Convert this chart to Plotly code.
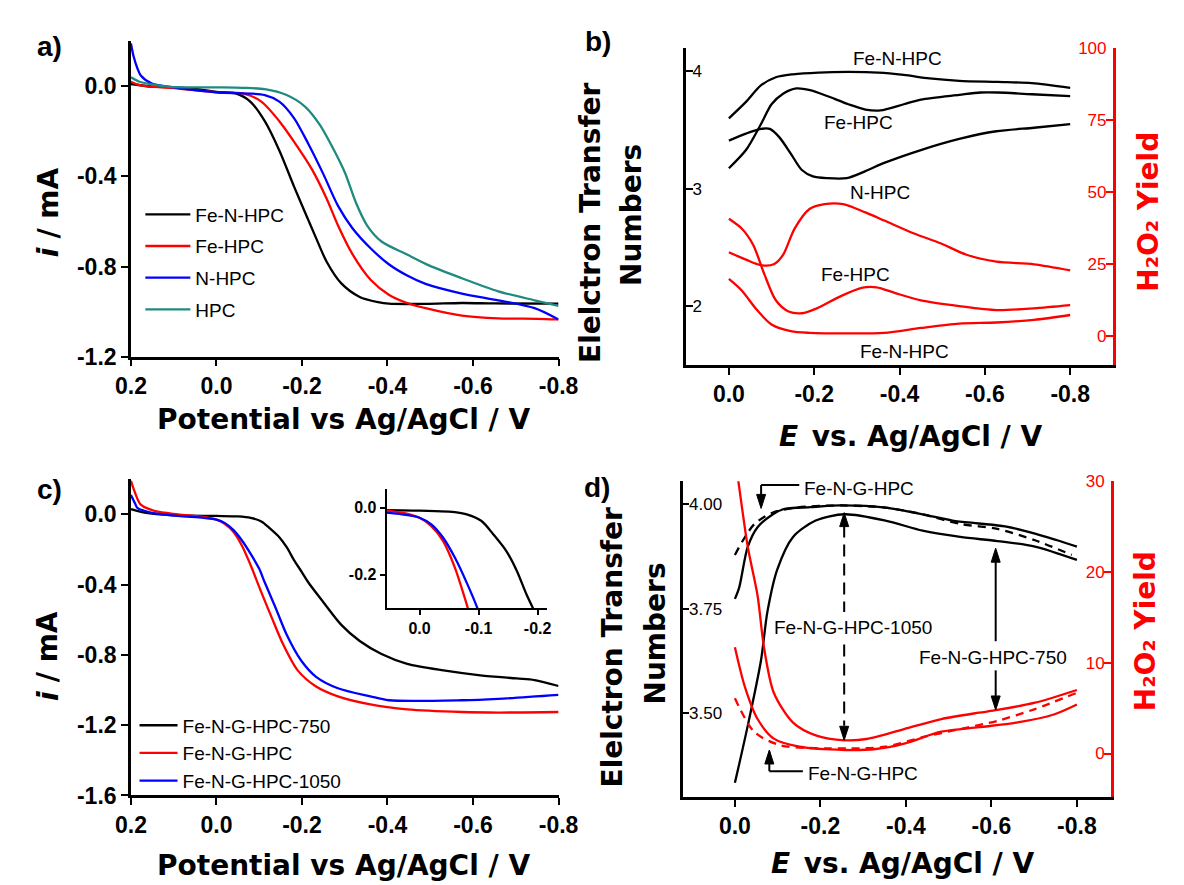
import plotly.graph_objects as go

W, H = 1184, 885

# ---------------- Panel a data ----------------
a_E_fenhpc = [0.2, 0.15, 0.1, 0.05, 0.0, -0.045, -0.079, -0.113, -0.147, -0.181, -0.207, -0.233, -0.258, -0.292, -0.335, -0.378, -0.403, -0.489, -0.574, -0.65, -0.8]
a_i_fenhpc = [0.01, -0.002, -0.005, -0.012, -0.025, -0.032, -0.068, -0.155, -0.285, -0.443, -0.559, -0.674, -0.78, -0.875, -0.935, -0.958, -0.965, -0.966, -0.962, -0.964, -0.965]
a_E_fehpc = [0.2, 0.18, 0.15, 0.1, 0.0, -0.062, -0.105, -0.147, -0.19, -0.224, -0.258, -0.284, -0.318, -0.361, -0.403, -0.446, -0.489, -0.574, -0.659, -0.75, -0.8]
a_i_fehpc = [0.02, 0.005, -0.002, -0.008, -0.027, -0.032, -0.068, -0.155, -0.27, -0.371, -0.50, -0.617, -0.745, -0.86, -0.925, -0.962, -0.985, -1.018, -1.03, -1.032, -1.035]
a_E_nhpc = [0.2, 0.194, 0.185, 0.177, 0.151, 0.109, 0.0, -0.113, -0.147, -0.181, -0.215, -0.25, -0.284, -0.318, -0.361, -0.403, -0.446, -0.489, -0.574, -0.659, -0.744, -0.8]
a_i_nhpc = [0.19, 0.134, 0.08, 0.048, 0.012, -0.003, -0.027, -0.039, -0.068, -0.14, -0.256, -0.39, -0.53, -0.63, -0.72, -0.79, -0.84, -0.877, -0.92, -0.95, -0.985, -1.035]
a_E_hpc = [0.2, 0.18, 0.15, 0.109, 0.0, -0.062, -0.113, -0.164, -0.207, -0.241, -0.275, -0.301, -0.326, -0.352, -0.386, -0.446, -0.497, -0.574, -0.659, -0.744, -0.8]
a_i_hpc = [0.04, 0.02, 0.008, -0.003, -0.005, -0.007, -0.013, -0.039, -0.09, -0.169, -0.284, -0.386, -0.516, -0.617, -0.689, -0.747, -0.795, -0.852, -0.91, -0.95, -0.975]

# ---------------- Panel b data ----------------
b_E_n_fenhpc = [0, -0.04, -0.075, -0.11, -0.15, -0.21, -0.28, -0.35, -0.41, -0.47, -0.54, -0.63, -0.71, -0.8]
b_n_fenhpc = [3.60, 3.74, 3.88, 3.95, 3.975, 3.99, 3.995, 3.99, 3.97, 3.94, 3.92, 3.91, 3.90, 3.86]
b_E_n_fehpc = [0, -0.04, -0.075, -0.10, -0.127, -0.158, -0.19, -0.23, -0.28, -0.32, -0.355, -0.41, -0.45, -0.54, -0.59, -0.63, -0.71, -0.8]
b_n_fehpc = [3.175, 3.33, 3.55, 3.72, 3.81, 3.855, 3.84, 3.79, 3.72, 3.675, 3.667, 3.72, 3.76, 3.80, 3.82, 3.82, 3.805, 3.79]
b_E_n_nhpc = [0, -0.04, -0.075, -0.096, -0.118, -0.145, -0.171, -0.197, -0.23, -0.276, -0.32, -0.364, -0.45, -0.54, -0.627, -0.715, -0.8]
b_n_nhpc = [3.41, 3.47, 3.51, 3.51, 3.44, 3.30, 3.16, 3.105, 3.09, 3.09, 3.15, 3.22, 3.33, 3.425, 3.49, 3.52, 3.55]
b_E_h_nhpc = [0, -0.04, -0.075, -0.105, -0.127, -0.154, -0.189, -0.224, -0.268, -0.32, -0.364, -0.434, -0.496, -0.557, -0.627, -0.715, -0.8]
b_h_nhpc = [29.1, 26.5, 24.6, 24.9, 28.2, 37.3, 44.1, 45.8, 45.8, 42.9, 40.1, 35.6, 32.2, 28.2, 25.8, 24.9, 22.8]
b_E_h_fehpc = [0, -0.03, -0.057, -0.083, -0.11, -0.14, -0.171, -0.206, -0.259, -0.311, -0.346, -0.39, -0.45, -0.54, -0.627, -0.715, -0.8]
b_h_fehpc = [40.7, 37.3, 31.6, 21.5, 12.4, 8.5, 7.9, 9.6, 13.6, 16.7, 16.9, 14.9, 12.4, 10.4, 9.0, 9.6, 10.7]
b_E_h_fenhpc = [0, -0.03, -0.066, -0.10, -0.145, -0.189, -0.276, -0.364, -0.45, -0.54, -0.627, -0.715, -0.8]
b_h_fenhpc = [19.8, 15.8, 9.0, 4.0, 1.7, 1.1, 0.9, 1.1, 2.8, 4.3, 4.7, 5.6, 7.3]

# ---------------- Panel c data ----------------
c_E_750 = [0.2, 0.168, 0.1, 0.0, -0.05, -0.08, -0.105, -0.125, -0.147, -0.165, -0.181, -0.2, -0.215, -0.25, -0.292, -0.335, -0.386, -0.446, -0.531, -0.617, -0.702, -0.744, -0.8]
c_i_750 = [0.03, 0.01, -0.005, -0.009, -0.012, -0.02, -0.04, -0.08, -0.13, -0.19, -0.259, -0.33, -0.388, -0.5, -0.629, -0.721, -0.795, -0.851, -0.888, -0.916, -0.934, -0.943, -0.977]
c_E_900 = [0.2, 0.19, 0.177, 0.143, 0.09, 0.03, 0.0, -0.02, -0.04, -0.06, -0.08, -0.105, -0.13, -0.156, -0.19, -0.233, -0.284, -0.36, -0.446, -0.574, -0.659, -0.8]
c_i_900 = [0.19, 0.12, 0.055, 0.018, 0.0, -0.015, -0.03, -0.055, -0.1, -0.18, -0.29, -0.444, -0.592, -0.74, -0.888, -0.98, -1.036, -1.082, -1.11, -1.125, -1.128, -1.125]
c_E_1050 = [0.2, 0.19, 0.185, 0.151, 0.09, 0.03, 0.0, -0.02, -0.04, -0.06, -0.08, -0.1, -0.113, -0.139, -0.164, -0.198, -0.233, -0.284, -0.36, -0.403, -0.574, -0.659, -0.8]
c_i_1050 = [0.11, 0.06, 0.037, 0.009, -0.009, -0.02, -0.03, -0.05, -0.09, -0.15, -0.225, -0.31, -0.388, -0.536, -0.684, -0.832, -0.925, -0.99, -1.036, -1.058, -1.058, -1.05, -1.027]

# ---------------- Panel d data ----------------
d_E_n_top = [0, -0.01, -0.03, -0.053, -0.089, -0.113, -0.177, -0.247, -0.352, -0.439, -0.509, -0.57, -0.632, -0.702, -0.754, -0.8]
d_n_top = [3.773, 3.80, 3.897, 3.944, 3.975, 3.987, 3.992, 3.996, 3.991, 3.975, 3.96, 3.953, 3.946, 3.929, 3.913, 3.898]
d_E_n_low = [0, -0.03, -0.061, -0.076, -0.099, -0.136, -0.189, -0.257, -0.352, -0.439, -0.527, -0.614, -0.702, -0.8]
d_n_low = [3.334, 3.47, 3.626, 3.742, 3.843, 3.921, 3.96, 3.975, 3.960, 3.936, 3.921, 3.911, 3.898, 3.866]
d_E_n_dash = [0, -0.019, -0.046, -0.089, -0.142, -0.247, -0.352, -0.439, -0.527, -0.614, -0.702, -0.788]
d_n_dash = [3.878, 3.913, 3.952, 3.979, 3.991, 3.996, 3.991, 3.975, 3.952, 3.94, 3.913, 3.878]
d_E_h_top = [0, -0.008, -0.03, -0.053, -0.068, -0.091, -0.136, -0.189, -0.257, -0.308, -0.396, -0.483, -0.571, -0.614, -0.702, -0.8]
d_h_top = [32.5, 30.0, 22.8, 17.4, 11.7, 6.7, 3.4, 2.0, 1.46, 1.6, 2.7, 3.8, 4.5, 4.8, 5.6, 7.0]
d_E_h_low = [0, -0.023, -0.053, -0.091, -0.151, -0.257, -0.33, -0.396, -0.483, -0.571, -0.658, -0.746, -0.8]
d_h_low = [11.7, 7.4, 3.8, 1.64, 0.75, 0.39, 0.5, 1.1, 2.4, 2.9, 3.4, 4.3, 5.4]
d_E_h_dash = [0, -0.045, -0.106, -0.264, -0.352, -0.439, -0.527, -0.614, -0.702, -0.8]
d_h_dash = [6.1, 2.4, 0.92, 0.57, 0.75, 1.8, 2.7, 3.6, 4.9, 6.7]

# ticks
ab_xticks = [0.2, 0.0, -0.2, -0.4, -0.6, -0.8]
ab_xtext = ["0.2", "0.0", "-0.2", "-0.4", "-0.6", "-0.8"]
bd_xticks = [0.0, -0.2, -0.4, -0.6, -0.8]
bd_xtext = ["0.0", "-0.2", "-0.4", "-0.6", "-0.8"]
a_yticks = [0.0, -0.4, -0.8, -1.2]
a_ytext = ["0.0", "-0.4", "-0.8", "-1.2"]
c_yticks = [0.0, -0.4, -0.8, -1.2, -1.6]
c_ytext = ["0.0", "-0.4", "-0.8", "-1.2", "-1.6"]
b_nticks = [2, 3, 4]
b_hticks = [0, 25, 50, 75, 100]
d_nticks = [3.5, 3.75, 4.0]
d_ntext = ["3.50", "3.75", "4.00"]
d_hticks = [0, 10, 20, 30]
in_xticks = [0.0, -0.1, -0.2]
in_xtext = ["0.0", "-0.1", "-0.2"]
in_yticks = [0.0, -0.2]
in_ytext = ["0.0", "-0.2"]

BLACK, RED, BLUE, TEAL = "#000000", "#FF0000", "#0000FF", "#1F8A80"
LW = 2.3

fig = go.Figure()

def add(x, y, color, xa, ya, name=None, legend=None, dash="solid", show=False):
    fig.add_trace(go.Scatter(
        x=x, y=y, mode="lines", name=name, xaxis=xa, yaxis=ya,
        line=dict(color=color, width=LW, dash=dash, shape="spline", smoothing=0.8),
        showlegend=show, legend=legend, legendgroup=name, hoverinfo="skip"))

# panel a
add(a_E_fenhpc, a_i_fenhpc, BLACK, "x", "y", "Fe-N-HPC", "legend", show=True)
add(a_E_fehpc, a_i_fehpc, RED, "x", "y", "Fe-HPC", "legend", show=True)
add(a_E_nhpc, a_i_nhpc, BLUE, "x", "y", "N-HPC", "legend", show=True)
add(a_E_hpc, a_i_hpc, TEAL, "x", "y", "HPC", "legend", show=True)

# panel b
add(b_E_n_fenhpc, b_n_fenhpc, BLACK, "x2", "y2")
add(b_E_n_fehpc, b_n_fehpc, BLACK, "x2", "y2")
add(b_E_n_nhpc, b_n_nhpc, BLACK, "x2", "y2")
add(b_E_h_nhpc, b_h_nhpc, RED, "x2", "y3")
add(b_E_h_fehpc, b_h_fehpc, RED, "x2", "y3")
add(b_E_h_fenhpc, b_h_fenhpc, RED, "x2", "y3")

# panel c
add(c_E_750, c_i_750, BLACK, "x3", "y4", "Fe-N-G-HPC-750", "legend2", show=True)
add(c_E_900, c_i_900, RED, "x3", "y4", "Fe-N-G-HPC", "legend2", show=True)
add(c_E_1050, c_i_1050, BLUE, "x3", "y4", "Fe-N-G-HPC-1050", "legend2", show=True)
# inset
add(c_E_750, c_i_750, BLACK, "x5", "y7")
add(c_E_900, c_i_900, RED, "x5", "y7")
add(c_E_1050, c_i_1050, BLUE, "x5", "y7")

# panel d
add(d_E_n_top, d_n_top, BLACK, "x4", "y5")
add(d_E_n_low, d_n_low, BLACK, "x4", "y5")
add(d_E_n_dash, d_n_dash, BLACK, "x4", "y5", dash="8px,6px")
add(d_E_h_top, d_h_top, RED, "x4", "y6")
add(d_E_h_low, d_h_low, RED, "x4", "y6")
add(d_E_h_dash, d_h_dash, RED, "x4", "y6", dash="8px,6px")

TICKB = dict(family="Arial", size=23, color="black", weight="bold")
base = dict(showline=True, linecolor="black", linewidth=2.5, showgrid=False, zeroline=False,
            ticks="outside", ticklen=7, tickwidth=2, tickcolor="black", mirror=False)

def dx(a, b):
    return [a / W, b / W]

def dy(top, bot):
    return [1 - bot / H, 1 - top / H]

fig.update_layout(
    width=W, height=H, margin=dict(l=0, r=0, t=0, b=0),
    paper_bgcolor="white", plot_bgcolor="rgba(0,0,0,0)",
    xaxis=dict(base, domain=dx(110.3, 551.3), range=[0.2, -0.8], anchor="y",
               tickvals=ab_xticks, ticktext=ab_xtext, tickfont=TICKB),
    yaxis=dict(base, domain=dy(24.8, 348.3), range=[-1.2, 0.2], anchor="x",
               tickvals=a_yticks, ticktext=a_ytext, tickfont=TICKB),
    xaxis2=dict(base, domain=dx(683, 1123), range=[0.1, -0.9], anchor="y2",
                tickvals=bd_xticks, ticktext=bd_xtext, tickfont=TICKB),
    yaxis2=dict(base, domain=dy(31.7, 356.7), range=[1.5, 4.2], anchor="x2",
                tickvals=b_nticks, ticks="inside", ticklabelposition="inside",
                ticklabeloverflow="allow",
                tickfont=dict(family="Arial", size=17, color="black")),
    yaxis3=dict(base, domain=dy(31.7, 356.7), range=[-10, 100], anchor="x2", overlaying="y2",
                side="right", linecolor=RED, tickcolor=RED, tickvals=b_hticks,
                ticks="inside", ticklabelposition="inside", ticklabeloverflow="allow",
                tickfont=dict(family="Arial", size=17, color=RED)),
    xaxis3=dict(base, domain=dx(110.3, 551.3), range=[0.2, -0.8], anchor="y4",
                tickvals=ab_xticks, ticktext=ab_xtext, tickfont=TICKB),
    yaxis4=dict(base, domain=dy(474, 798.3), range=[-1.6, 0.2], anchor="x3",
                tickvals=c_yticks, ticktext=c_ytext, tickfont=TICKB),
    xaxis4=dict(base, domain=dx(679.4, 1121.2), range=[0.122, -0.88], anchor="y5",
                tickvals=bd_xticks, ticktext=bd_xtext, tickfont=TICKB),
    yaxis5=dict(base, domain=dy(476, 800), range=[3.30, 4.054], anchor="x4",
                tickvals=d_nticks, ticktext=d_ntext, ticks="inside", ticklabelposition="inside",
                ticklabeloverflow="allow",
                tickfont=dict(family="Arial", size=17, color="black")),
    yaxis6=dict(base, domain=dy(476, 800), range=[-4.8, 30], anchor="x4", overlaying="y5",
                side="right", linecolor=RED, tickcolor=RED, tickvals=d_hticks,
                ticks="inside", ticklabelposition="inside", ticklabeloverflow="allow",
                tickfont=dict(family="Arial", size=17, color=RED)),
    xaxis5=dict(base, domain=dx(374, 539.5), range=[0.0557, -0.216], anchor="y7",
                linewidth=2, ticklen=5, tickvals=in_xticks, ticktext=in_xtext,
                tickfont=dict(family="Arial", size=16, color="black", weight="bold")),
    yaxis7=dict(base, domain=dy(484, 606), range=[-0.3, 0.056], anchor="x5",
                linewidth=2, ticklen=5, tickvals=in_yticks, ticktext=in_ytext,
                tickfont=dict(family="Arial", size=16, color="black", weight="bold")),
    legend=dict(x=120 / W, y=1 - 183 / H, xanchor="left", yanchor="top",
                font=dict(family="Arial", size=19, color="black"), bgcolor="rgba(0,0,0,0)",
                tracegroupgap=4, itemwidth=45),
    legend2=dict(x=114 / W, y=1 - 707 / H, xanchor="left", yanchor="top",
                 font=dict(family="Arial", size=19, color="black"), bgcolor="rgba(0,0,0,0)",
                 tracegroupgap=0, itemwidth=38),
)

TITLE = dict(family="DejaVu Sans", size=28, color="black", weight="bold")
TITLE_I = dict(TITLE, style="italic")
ann = []

def pa(text, x, y, font, angle=0, xanchor="center", yanchor="middle"):
    ann.append(dict(text=text, x=x / W, y=1 - y / H, xref="paper", yref="paper",
                    showarrow=False, font=font, textangle=angle, xanchor=xanchor, yanchor=yanchor))

pa("Potential vs Ag/AgCl / V", 330, 413, TITLE)
pa("Potential vs Ag/AgCl / V", 330, 870, TITLE)
# "E vs. Ag/AgCl / V" with italic E
pa("E", 800, 430, TITLE_I, xanchor="right")
pa(" vs. Ag/AgCl / V", 800, 430, TITLE, xanchor="left")
pa("E", 792, 868, TITLE_I, xanchor="right")
pa(" vs. Ag/AgCl / V", 792, 868, TITLE, xanchor="left")
# "i / mA" with italic i (rotated, read bottom to top)
pa("i", 25, 241, TITLE_I, -90)
pa(" / mA", 25, 196, TITLE, -90)
pa("i", 25, 696, TITLE_I, -90)
pa(" / mA", 25, 651, TITLE, -90)
YT = dict(family="DejaVu Sans", size=28, color="black", weight="bold")
pa("Elelctron Transfer", 585, 211, YT, -90)
pa("Numbers", 627, 203, YT, -90)
pa("Elelctron Transfer", 607, 646, YT, -90)
pa("Numbers", 651, 632, YT, -90)
RT = dict(family="DejaVu Sans", size=28, color=RED, weight="bold")
pa("H₂O₂ Yield", 1159, 200, RT, -90)
pa("H₂O₂ Yield", 1157, 630, RT, -90)
PL = dict(family="Arial", size=28, color="black", weight="bold")
pa("a)", 26, 30, PL)
pa("b)", 592, 25, PL)
pa("c)", 26, 485, PL)
pa("d)", 591, 482, PL)

LAB = dict(family="Arial", size=19, color="black")

def da(text, x, y, xr, yr):
    ann.append(dict(text=text, x=x, y=y, xref=xr, yref=yr, showarrow=False, font=LAB,
                    xanchor="center", yanchor="middle"))

# panel b labels
da("Fe-N-HPC", -0.395, 4.111, "x2", "y2")
da("Fe-HPC", -0.303, 3.564, "x2", "y2")
da("N-HPC", -0.355, 2.967, "x2", "y2")
da("Fe-HPC", -0.296, 21.5, "x2", "y3")
da("Fe-N-HPC", -0.412, -5.4, "x2", "y3")

# panel d labels
da("Fe-N-G-HPC", -0.2907, 4.037, "x4", "y5")
da("Fe-N-G-HPC-1050", -0.2772, 3.705, "x4", "y5")
da("Fe-N-G-HPC-750", -0.6043, 3.633, "x4", "y5")
da("Fe-N-G-HPC", -0.3001, -2.22, "x4", "y6")

shapes = []

def seg(x0, y0, x1, y1, yr, dash="solid"):
    shapes.append(dict(type="line", xref="x4", yref=yr, x0=x0, x1=x1, y0=y0, y1=y1,
                       line=dict(color="black", width=2, dash=dash)))

def head(x, y, yr, up):
    path = "M0,0 L-4.5,-14 L4.5,-14 Z" if up else "M0,0 L-4.5,14 L4.5,14 Z"
    shapes.append(dict(type="path", xref="x4", yref=yr, xsizemode="pixel", ysizemode="pixel",
                       xanchor=x, yanchor=y, path=path, fillcolor="black",
                       line=dict(color="black", width=1)))

# top bracket (Fe-N-G-HPC)
seg(-0.0613, 4.045, -0.1505, 4.045, "y5")
seg(-0.0613, 4.045, -0.0613, 3.995, "y5")
head(-0.0613, 3.989, "y5", up=False)
# bottom bracket (Fe-N-G-HPC)
seg(-0.0805, -1.94, -0.159, -1.94, "y6")
seg(-0.0805, -1.94, -0.0805, 0.2, "y6")
head(-0.0805, 0.39, "y6", up=True)
# Fe-N-G-HPC-750 solid arrow
seg(-0.61, 3.88, -0.61, 3.672, "y5")
head(-0.61, 3.894, "y5", up=True)
seg(-0.61, 9.16, -0.61, 5.2, "y6")
head(-0.61, 4.8, "y6", up=False)
# Fe-N-G-HPC-1050 dashed arrow
seg(-0.2556, 3.948, -0.2556, 3.742, "y5", dash="12px,7px")
seg(-0.2556, 12.0, -0.2556, 3.07, "y6", dash="12px,7px")
head(-0.2556, 3.979, "y5", up=True)
head(-0.2556, 1.46, "y6", up=False)

fig.update_layout(annotations=ann, shapes=shapes)
fig.write_html("out.html")
